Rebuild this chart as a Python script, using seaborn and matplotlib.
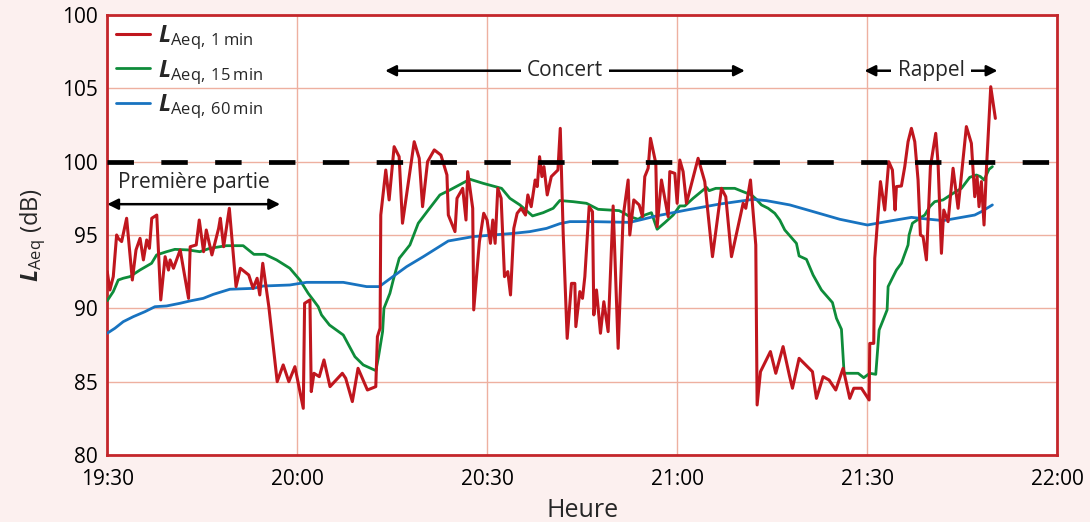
import matplotlib
matplotlib.use("Agg")
import matplotlib.pyplot as plt
import seaborn as sns
import numpy as np

# ---------------- data (minutes after 19:30, dB) ----------------
t_1min = [0.0, 0.42, 0.95, 1.48, 1.74, 2.27, 3.06, 3.96, 4.54, 5.18, 5.71, 6.23, 6.66, 7.03, 7.82,
          8.45, 9.14, 9.67, 9.93, 10.46, 11.52, 12.84, 13.1, 14.05, 14.53, 15.21, 15.64, 16.53,
          17.59, 17.86, 18.38, 19.28, 20.34, 21.02, 22.35, 23.03, 23.67, 24.09, 24.56, 25.52,
          26.84, 27.79, 28.68, 29.64, 30.96, 31.17, 32.01, 32.22, 32.65, 33.49, 34.23, 35.18,
          37.13, 37.66, 38.71, 39.61, 41.09, 42.41, 42.67, 43.09, 43.2, 43.99, 44.52, 45.31,
          46.1, 46.63, 48.48, 49.27, 49.8, 50.59, 51.65, 52.7, 53.65, 53.87, 54.92, 55.24,
          56.14, 56.66, 56.93, 57.72, 57.88, 58.78, 59.46, 59.99, 60.52, 60.89, 61.26, 61.68,
          62.21, 62.74, 63.26, 63.69, 64.21, 64.74, 65.37, 66.06, 66.43, 66.96, 67.59, 67.91,
          68.28, 68.65, 68.97, 69.49, 70.13, 71.18, 71.55,
          72.01, 72.64, 73.32, 73.85, 74.01, 74.64, 75.06, 75.43, 76.11, 76.64, 76.85, 77.27,
          77.9, 78.43, 79.11, 79.9, 80.69, 81.48, 82.27, 82.53, 83.16, 84.01, 84.53, 84.9,
          85.43, 85.8, 86.64, 86.85, 87.53, 88.59, 88.85, 89.64, 90.01, 90.43, 90.95, 91.48,
          93.32, 94.37, 95.59, 97.01, 97.69, 98.59, 100.43, 100.85, 101.59, 102.43, 102.64,
          103.17, 104.74, 105.59, 106.74, 107.75,
          108.22, 109.27, 111.38, 112.01, 113.06, 114.01, 115.06, 116.22, 117.27, 117.91,
          119.12, 120.33, 120.43, 121.06, 121.22, 121.75, 122.12, 122.8, 123.43, 124.01,
          124.43, 124.64, 125.43, 125.96, 126.48, 127.01, 127.54, 128.06, 128.43, 128.85,
          129.38, 130.01, 130.85, 131.22, 131.75, 132.12, 132.8, 133.59, 134.38, 135.69,
          136.48, 137.01, 137.38, 137.69, 138.06, 138.48, 138.85, 139.54, 140.27]
laeq_1min = [92.5, 91.25, 92.16, 95.0, 94.77, 94.55, 96.14, 91.93, 93.98, 94.77, 93.3, 94.66, 94.09,
             96.14, 96.36, 90.57, 93.52, 92.61, 93.3, 92.73, 93.98, 90.68, 94.2, 94.32, 96.02,
             93.86, 95.34, 93.64, 95.45, 96.14, 94.2, 96.82, 91.48, 92.73, 92.27, 91.36, 92.05,
             90.91, 93.07, 90.11, 85.0, 86.14, 85.0, 86.02, 83.18, 90.34, 90.57, 84.32, 85.57,
             85.34, 86.48, 84.66,
             85.57, 85.23, 83.64, 85.91, 84.43, 84.66, 88.07, 88.64, 96.36, 99.43, 97.39, 101.02,
             100.34, 95.8, 101.36, 100.23, 96.93, 100.0, 100.8, 100.45, 99.09, 96.36, 95.23, 97.5,
             98.18, 96.02, 99.32, 96.82, 89.89, 94.55, 96.48, 96.02, 94.43, 96.02, 94.43, 98.18,
             97.5, 92.16, 92.5, 90.91, 95.45, 96.48, 96.82, 96.36, 97.73, 96.93, 98.75, 98.3,
             100.34, 98.98, 99.66, 97.73, 98.98, 99.43, 102.27,
             95.11, 87.95, 91.7, 91.7, 88.75, 91.14, 90.68, 92.16, 96.93, 96.59, 89.55, 91.25,
             88.3, 90.45, 88.41, 96.98, 87.27, 96.25, 98.75, 95.0, 97.39, 97.05, 96.25, 98.98,
             99.55, 101.59, 99.89, 95.57, 98.75, 96.25, 99.32, 99.2, 97.16, 100.11, 99.32, 97.16,
             100.23, 98.64, 93.52, 98.18, 97.61, 93.52, 97.16, 96.82, 98.75, 94.32, 83.41,
             85.68, 87.05, 85.57, 87.39, 85.4,
             84.55, 86.59, 85.68, 83.86, 85.34, 85.11, 84.43, 85.91, 83.86, 84.55,
             84.55, 83.75, 87.61, 87.61, 93.41, 96.48, 98.64, 96.7, 100.0, 99.43,
             96.7, 98.3, 98.34, 99.66, 101.36, 102.27, 101.36, 98.75, 95.0, 94.89,
             93.3, 99.66, 101.93, 99.89, 93.75, 96.7, 95.91, 99.55, 96.82, 102.39,
             101.25, 97.61, 98.98, 96.93, 98.64, 95.68, 99.43, 105.11, 102.95]

t_15min = [0.0, 0.95, 1.74, 2.53, 3.58, 5.16, 7.0, 7.79, 9.37, 10.68, 12.79, 14.63, 16.21, 17.79,
           18.84, 21.47, 23.16, 24.89, 26.74, 28.84, 30.42, 31.74, 32.53, 33.32, 33.84, 35.1,
           37.28, 39.12, 40.43, 42.43, 42.8, 43.49, 43.7, 44.64, 45.17, 46.12, 47.8, 49.12,
           50.7, 52.54, 54.12, 57.28, 59.38, 62.28, 63.59, 65.17, 67.17, 68.85, 70.43, 71.48,
           73.59, 75.69, 77.53, 79.38, 80.85, 81.48, 82.53, 83.85, 84.9, 85.95, 86.85, 88.06,
           89.38, 90.43, 91.22, 92.53, 94.64, 95.06, 96.11, 97.27, 99.11, 100.43, 101.74,
           102.53, 103.32, 104.38, 105.43, 106.22, 107.01, 107.8,
           108.85, 109.27, 110.43, 111.48, 112.8, 114.54, 115.17, 115.96, 116.38, 118.59,
           119.48, 120.43, 121.38, 121.91, 122.54, 123.17, 123.33, 124.64, 125.43, 126.48,
           126.64, 127.17, 128.33, 129.12, 129.91, 130.69, 132.01, 133.59, 134.91, 136.22,
           137.27, 137.91, 138.48, 139.27, 139.8]
laeq_15min = [90.52, 91.14, 91.93, 92.05, 92.16, 92.61, 93.07, 93.64, 93.86, 94.02, 93.98, 93.86,
              94.09, 94.2, 94.27, 94.27, 93.68, 93.68, 93.3, 92.73, 91.93, 91.02, 90.57, 90.11,
              89.55, 88.86, 88.18, 86.7, 86.14, 85.75, 86.59, 88.41, 90.0, 91.02, 91.93, 93.41,
              94.32, 95.8, 96.7, 97.73, 98.07, 98.8, 98.52, 98.18, 97.5, 97.05, 96.3, 96.52,
              96.82, 97.35, 97.27, 97.16, 96.75, 96.7, 96.66, 96.52, 96.25, 96.07, 96.36, 96.52,
              95.39, 95.84, 96.36, 96.98, 96.98, 97.5, 98.25, 98.02, 98.18, 98.18, 98.18, 97.95,
              97.73, 97.43, 97.05, 96.82, 96.48, 96.02, 95.34, 94.95,
              94.43, 93.57, 93.34, 92.27, 91.25, 90.39, 89.32, 88.57, 85.57, 85.57,
              85.27, 85.57, 85.5, 88.52, 89.2, 89.89, 91.48, 92.61, 93.07, 94.32,
              95.0, 95.8, 96.14, 96.36, 96.93, 97.27, 97.39, 97.84, 98.18, 98.93,
              99.09, 98.98, 98.75, 99.48, 99.66]

t_60min = [0.0, 1.21, 2.53, 4.11, 5.95, 7.53, 9.37, 11.47, 13.05, 15.16, 16.74, 19.37, 23.05,
           24.63, 28.84, 31.47, 35.16, 37.28, 40.96, 42.96, 44.38, 47.28, 49.91, 53.86, 57.8,
           64.12, 66.75, 69.38, 71.48, 73.06, 76.74, 82.53, 84.11, 86.74, 91.48, 96.74,
           102.01, 104.11, 107.8, 110.96, 115.7, 120.06, 123.06, 127.01, 129.91, 132.01,
           134.12, 137.01, 138.06, 139.8]
laeq_60min = [88.3, 88.64, 89.09, 89.43, 89.77, 90.11, 90.16, 90.34, 90.5, 90.68, 90.95, 91.3,
              91.36, 91.52, 91.59, 91.77, 91.77, 91.77, 91.48, 91.48, 91.93, 92.84, 93.52, 94.59,
              94.89, 95.11, 95.23, 95.45, 95.77, 95.91, 95.91, 95.86, 96.02, 96.3, 96.7, 97.11,
              97.43, 97.34, 97.05, 96.66, 96.07, 95.68, 95.91, 96.2, 96.07, 95.98, 96.14, 96.36,
              96.59, 97.05]

x_ticks = [0, 30, 60, 90, 120, 150]
x_labels = ["19:30", "20:00", "20:30", "21:00", "21:30", "22:00"]
y_ticks = [80, 85, 90, 95, 100, 105, 110]
y_labels = ["80", "85", "90", "95", "100", "105", "100"]
limit_db = 100
series_labels = [r"$\mathbfit{L}_{\mathrm{Aeq,}\:\mathrm{1}\:\mathrm{min}}$",
                 r"$\mathbfit{L}_{\mathrm{Aeq,}\:\mathrm{15}\:\mathrm{min}}$",
                 r"$\mathbfit{L}_{\mathrm{Aeq,}\:\mathrm{60}\:\mathrm{min}}$"]
periods = [("Première partie", 0, 27.3), ("Concert", 43.9, 100.7), ("Rappel", 119.6, 140.6)]

# ---------------- style ----------------
sns.set_theme(style="white")
FONT = ["Open Sans", "DejaVu Sans"]
plt.rcParams["font.family"] = FONT
plt.rcParams["mathtext.fontset"] = "custom"
plt.rcParams["mathtext.rm"] = "Open Sans"
plt.rcParams["mathtext.it"] = "Open Sans:italic"
plt.rcParams["mathtext.bf"] = "Open Sans:bold"
plt.rcParams["mathtext.bfit"] = "Open Sans:bold:italic"

BG = "#fcf0ef"
BORDER = "#c4262b"
GRID = "#eeb0a0"
RED = "#c0161e"
GREEN = "#0e8c3a"
BLUE = "#1873c0"

fig = plt.figure(figsize=(10.9, 5.22), dpi=100, facecolor=BG)
ax = fig.add_axes([0.0984, 0.1284, 0.8713, 0.8429])
ax.set_facecolor("white")

sns.lineplot(x=t_1min, y=laeq_1min, ax=ax, color=RED, lw=2.2, label=series_labels[0],
             estimator=None, sort=False, zorder=4)
sns.lineplot(x=t_15min, y=laeq_15min, ax=ax, color=GREEN, lw=2.0, label=series_labels[1],
             estimator=None, sort=False, zorder=3)
sns.lineplot(x=t_60min, y=laeq_60min, ax=ax, color=BLUE, lw=2.0, label=series_labels[2],
             estimator=None, sort=False, zorder=3)

ax.axhline(limit_db, color="black", lw=3.4, dashes=(5.6, 5.8), zorder=5)

ax.set_xlim(x_ticks[0], x_ticks[-1])
ax.set_ylim(y_ticks[0], y_ticks[-1])
ax.set_xticks(x_ticks)
ax.set_xticklabels(x_labels)
ax.set_yticks(y_ticks)
ax.set_yticklabels(y_labels)
ax.tick_params(axis="x", labelsize=15, length=0, pad=10, colors="black")
ax.tick_params(axis="y", labelsize=15, length=0, pad=7, colors="black")
ax.grid(True, color=GRID, lw=1.0, zorder=0)
ax.set_axisbelow(True)
for s in ax.spines.values():
    s.set_color(BORDER)
    s.set_linewidth(2.0)
    s.set_visible(True)

ax.set_xlabel("Heure", fontsize=18, labelpad=6)
ax.set_ylabel(r"$\mathbfit{L}_{\mathrm{Aeq}}$ (dB)", fontsize=17, labelpad=10)

leg = ax.legend(loc="upper left", frameon=False, fontsize=17, handlelength=1.45,
                handletextpad=0.35, labelspacing=0.25, borderaxespad=0.25,
                borderpad=0.1)

# period annotations
arrow_kw = dict(arrowstyle="<|-|>", color="black", lw=1.8, mutation_scale=16,
                shrinkA=0, shrinkB=0)
name, a, b = periods[0]
ax.annotate("", xy=(a, 97.1), xytext=(b, 97.1), arrowprops=arrow_kw, zorder=6)
ax.text((a + b) / 2, 98.55, name, fontsize=15, ha="center", va="center", zorder=6)
for name, a, b in periods[1:]:
    ax.annotate("", xy=(a, 106.2), xytext=(b, 106.2), arrowprops=arrow_kw, zorder=6)
    ax.text((a + b) / 2, 106.2, name, fontsize=15, ha="center", va="center", zorder=7,
            bbox=dict(boxstyle="square,pad=0.3", fc="white", ec="none"))

fig.savefig("out.png", dpi=100, facecolor=BG)
